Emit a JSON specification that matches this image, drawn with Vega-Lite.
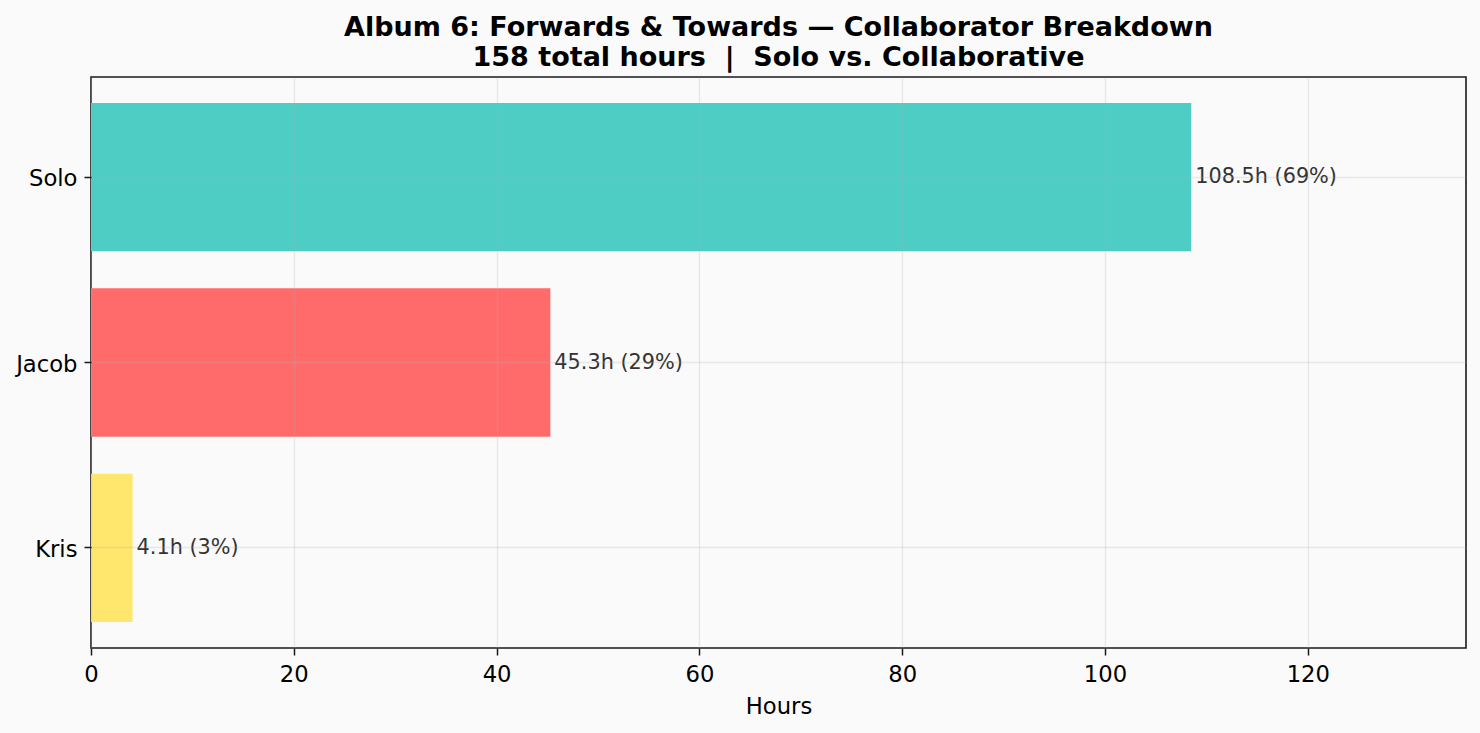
{
  "$schema": "https://vega.github.io/schema/vega-lite/v6.json",
  "autosize": {"type": "none"},
  "width": 1375,
  "height": 571,
  "padding": {"left": 91, "top": 77, "right": 14, "bottom": 85},
  "background": "#FAFAFA",
  "config": {
    "font": "DejaVu Sans",
    "view": {"stroke": "#1a1a1a", "strokeWidth": 1.6, "fill": "#FAFAFA"}
  },
  "title": {
    "text": ["Album 6: Forwards & Towards — Collaborator Breakdown", "158 total hours \u00a0|\u00a0 Solo vs. Collaborative"],
    "font": "DejaVu Sans",
    "fontSize": 27,
    "fontWeight": "bold",
    "color": "#000000",
    "anchor": "middle",
    "frame": "group",
    "lineHeight": 30,
    "offset": 5
  },
  "data": {
    "values": [
      {"who": "Solo", "hours": 108.5, "label": "108.5h (69%)"},
      {"who": "Jacob", "hours": 45.3, "label": "45.3h (29%)"},
      {"who": "Kris", "hours": 4.1, "label": "4.1h (3%)"}
    ]
  },
  "encoding": {
    "y": {
      "field": "who",
      "type": "nominal",
      "sort": ["Solo", "Jacob", "Kris"],
      "scale": {"paddingInner": 0.2, "paddingOuter": 0.14},
      "axis": {
        "title": null,
        "bandPosition": 0.5,
        "domain": false,
        "grid": true,
        "gridColor": "#b0b0b0",
        "gridOpacity": 0.25,
        "gridWidth": 1.3,
        "tickColor": "#1a1a1a",
        "tickSize": 7,
        "tickWidth": 1.5,
        "labelFontSize": 22.7,
        "labelColor": "#000000",
        "labelPadding": 7,
        "labelOffset": 2,
        "zindex": 1
      }
    },
    "x": {
      "field": "hours",
      "type": "quantitative",
      "scale": {"domain": [0, 135.6], "nice": false, "zero": true},
      "axis": {
        "title": "Hours",
        "values": [0, 20, 40, 60, 80, 100, 120],
        "domain": false,
        "grid": true,
        "gridColor": "#b0b0b0",
        "gridOpacity": 0.25,
        "gridWidth": 1.3,
        "tickColor": "#1a1a1a",
        "tickSize": 7,
        "tickWidth": 1.5,
        "labelFontSize": 22.7,
        "labelColor": "#000000",
        "labelPadding": 8,
        "labelFlush": false,
        "titleFontSize": 22.7,
        "titleFontWeight": "normal",
        "titleColor": "#000000",
        "titleBaseline": "alphabetic",
        "titleY": 65,
        "zindex": 1
      }
    }
  },
  "layer": [
    {
      "mark": {"type": "bar"},
      "encoding": {
        "color": {
          "field": "who",
          "type": "nominal",
          "scale": {"domain": ["Solo", "Jacob", "Kris"], "range": ["#4ECDC4", "#FF6B6B", "#FFE66D"]},
          "legend": null
        }
      }
    },
    {
      "mark": {"type": "text", "align": "left", "baseline": "middle", "dx": 4, "fontSize": 20.8, "color": "#333333"},
      "encoding": {
        "text": {"field": "label"}
      }
    }
  ]
}
